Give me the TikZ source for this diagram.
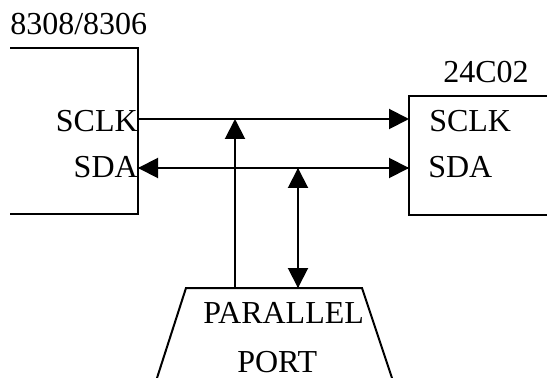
\documentclass[tikz,border=0pt]{standalone}
\usepackage{fontspec}
\setmainfont{Liberation Serif}
\usetikzlibrary{
    arrows.meta,
%    positioning,
}

\begin{document}
\begin{tikzpicture}
        [
            x = 0.75pt, y = -0.75pt,
            wire/.style = {line width = 1.5pt},
            tip/.style = {-{Triangle[length = 15pt, width = 15pt]}},
            label/.style = {inner sep = 0pt, font = \fontsize{24}{28}\selectfont}
        ]
        \useasboundingbox (0, 0) rectangle (547, 378);
        % left chip
        \draw[wire] (10, 48) -- (138, 48) -- (138, 214) -- (10, 214);
        \node[label, anchor = base west] (mcu) at (10, 35) {8308/8306};
        \node[label, anchor = base east] (mcusclk) at (138, 132) {SCLK};
        \node[label, anchor = base east] (mcusda) at (138, 178) {SDA};
        \coordinate (mcuclkpin) at (138, 119);
        \coordinate (mcudatpin) at (138, 168);
        % right chip
        \draw[wire] (547, 96) -- (409, 96) -- (409, 215) -- (547, 215);
        \node[label, anchor = base west] (eep) at (443, 83) {24C02};
        \node[label, anchor = base west] (eepsclk) at (429, 132) {SCLK};
        \node[label, anchor = base west] (eepsda) at (428, 178) {SDA};
        \coordinate (eepclkpin) at (409, 119);
        \coordinate (eepdatpin) at (409, 168);
        % parallel port
        \draw[wire] (157, 378) -- (186, 288) -- (362, 288) -- (392, 378);
        \node[label, anchor = base west] (lpt) at (203, 323) {PARALLEL};
        \node[label, anchor = base west] (lptport) at (237, 372) {PORT};
        \coordinate (lptclk) at (235, 288);
        \coordinate (lptdat) at (298, 288);
        % buses
        \draw[wire, tip] (mcuclkpin) -- (eepclkpin);
        \draw[wire, tip] (mcudatpin) -- (eepdatpin);
        \draw[wire, tip] (eepdatpin) -- (mcudatpin);
        \draw[wire, tip] (lptclk) -- (lptclk |- mcuclkpin);
        \draw[wire, tip] (lptdat |- mcudatpin) -- (lptdat);
        \draw[wire, tip] (lptdat) -- (lptdat |- mcudatpin);
    \end{tikzpicture}
\end{document}
